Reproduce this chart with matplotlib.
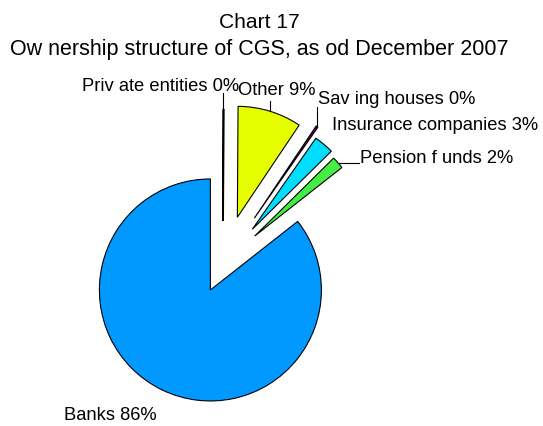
import matplotlib
matplotlib.use("Agg")
import matplotlib.pyplot as plt
import numpy as np

# ---- data ----
categories = ["Priv ate entities", "Other", "Sav ing houses",
              "Insurance companies", "Pension f unds", "Banks"]
shares = [0.1, 9.3, 0.3, 2.9, 1.8, 85.6]
title_lines = ["Chart 17", "Ow nership structure of CGS, as od December 2007"]

# ---- style ----
colors = ["#111111", "#E6FF00", "#550066", "#00DDFF", "#44EE44", "#0099FF"]
explode_frac = [0.39, 0.44, 0.50, 0.41, 0.38, 0.26]
FONT = ["Liberation Sans", "DejaVu Sans"]

W, H = 543, 426
fig = plt.figure(figsize=(W / 100, H / 100), dpi=100)
ax = fig.add_axes([0, 0, 1, 1])

cx, cy, R = 223, H - 264, 111
# matplotlib's explode offset is in data units, so scale by the radius
explode = [e * R for e in explode_frac]
wedges, _ = ax.pie(shares, colors=colors, explode=explode, startangle=90,
                   counterclock=False, radius=R, center=(cx, cy),
                   wedgeprops=dict(edgecolor="black", linewidth=0.8),
                   frame=True)
wedges[0].set_linewidth(1.2)
ax.set_xlim(0, W)
ax.set_ylim(0, H)
ax.set_aspect("equal")
ax.axis("off")

# label placement (screen px: left x, baseline y) and leader type
label_pos = [(81.7, 90.7), (238.3, 95.0), (318.3, 104.5),
             (331.7, 130.5), (360.0, 163.0), (64.0, 420.5)]
leader = ["v", "v", "v", None, "h", None]
leader_end = [93, 101, 107, None, 359, None]

for i, (name, v) in enumerate(zip(categories, shares)):
    lx, ly = label_pos[i]
    ax.text(lx, H - ly, f"{name} {round(v):.0f}%", ha="left", va="baseline",
            fontsize=13.2, family=FONT, color="black")
    if leader[i] is None:
        continue
    w = wedges[i]
    mid = np.deg2rad((w.theta1 + w.theta2) / 2)
    ox = w.center[0] + R * np.cos(mid)
    oy = w.center[1] + R * np.sin(mid)
    if leader[i] == "v":
        ax.plot([ox, ox], [oy, H - leader_end[i]], color="black", lw=0.8)
    else:
        ax.plot([ox, leader_end[i]], [oy, oy], color="black", lw=0.8)

ax.text(259, H - 28.3, title_lines[0], ha="center", va="baseline",
        fontsize=15.1, family=FONT)
ax.text(259, H - 54.8, title_lines[1], ha="center", va="baseline",
        fontsize=15.5, family=FONT)

fig.savefig("out.png", dpi=100, facecolor="white")
